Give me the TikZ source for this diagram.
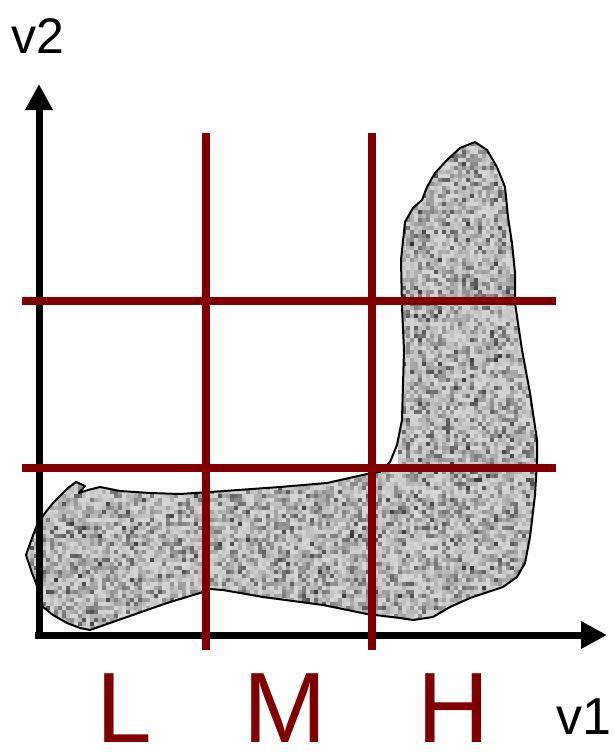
\documentclass[tikz,border=0pt]{standalone}
\usepackage{fontspec}
\setmainfont{Liberation Sans}
\usetikzlibrary{arrows.meta}
\definecolor{darkred}{RGB}{128,0,0}
\newcommand{\blobshape}{(26,555) -- (32,538) -- (37,525) -- (45,513) -- (53,503) -- (68,488)
  -- (76,482) -- (85,486) -- (79,493) -- (88,490) -- (100,487) -- (120,491) -- (150,493)
  -- (180,494) -- (210,492) -- (280,487) -- (327,483) -- (367,474) -- (380,472) -- (390,462)
  -- (397,445) -- (402,420) -- (404,350) -- (402,307) -- (401,260) -- (405,222) -- (413,208)
  -- (422,200) -- (427,187) -- (435,173) -- (447,160) -- (460,148) -- (475,142) -- (487,150)
  -- (497,167) -- (505,187) -- (508,217) -- (512,243) -- (515,273) -- (515,303) -- (522,350)
  -- (530,393) -- (537,440) -- (537,460) -- (535,495) -- (530,537) -- (525,563) -- (517,577)
  -- (503,587) -- (470,598) -- (450,607) -- (433,617) -- (413,620) -- (400,618) -- (367,614)
  -- (323,605) -- (263,597) -- (223,590) -- (210,589) -- (200,593) -- (167,603) -- (127,617)
  -- (90,630) -- (80,628) -- (67,623) -- (53,615) -- (43,607) -- (36,583) -- (32,573) -- cycle}

\begin{document}
\begin{tikzpicture}[x=1pt, y=-1pt,
    axis/.style={line width=7pt, -{Triangle[length=26pt,width=26pt]}},
    band/.style={line width=7.5pt, darkred},
    axislabel/.style={inner sep=0pt, anchor=base west},
    level/.style={inner sep=0pt, anchor=base, darkred, font=\fontsize{100}{100}\selectfont}]
    \useasboundingbox (0,0) rectangle (613,752);

    % speckled region
    \pgfmathsetseed{7}
    \begin{scope}
        \clip \blobshape;
        \foreach \x in {22,26,...,406} {
            \foreach \y in {466,470,...,634} {
                \pgfmathsetmacro\g{int(16+64*rnd*rnd)}
                \fill[black!\g] (\x,\y) rectangle ++(4.2,4.2);
            }
        }
        \foreach \x in {398,402,...,540} {
            \foreach \y in {138,142,...,626} {
                \pgfmathsetmacro\g{int(16+64*rnd*rnd)}
                \fill[black!\g] (\x,\y) rectangle ++(4.2,4.2);
            }
        }
    \end{scope}
    \draw[line width=2pt, line join=round] \blobshape;

    % axes
    \coordinate (origin) at (39,638);
    \coordinate (xstart) at (35,635);
    \coordinate (xtip) at (607,635);
    \coordinate (ytip) at (39,84);
    \draw[axis] (origin) -- (ytip);
    \draw[axis] (xstart) -- (xtip);
    \node[axislabel, font=\fontsize{50}{50}\selectfont] (vtwo) at (11,53) {v2};
    \node[axislabel, font=\fontsize{52}{52}\selectfont] (vone) at (556,734) {v1};

    % grid of levels
    \coordinate (lm top) at (206,133);
    \coordinate (lm bot) at (206,650);
    \coordinate (mh top) at (372,133);
    \coordinate (mh bot) at (372,650);
    \coordinate (hi left) at (22,301);
    \coordinate (hi right) at (556,301);
    \coordinate (lo left) at (22,468);
    \coordinate (lo right) at (556,468);
    \draw[band] (lm top) -- (lm bot);
    \draw[band] (mh top) -- (mh bot);
    \draw[band] (hi left) -- (hi right);
    \draw[band] (lo left) -- (lo right);

    \node[level] (low) at (124,742) {L};
    \node[level] (mid) at (285,742) {M};
    \node[level] (high) at (454,742) {H};
\end{tikzpicture}
\end{document}
